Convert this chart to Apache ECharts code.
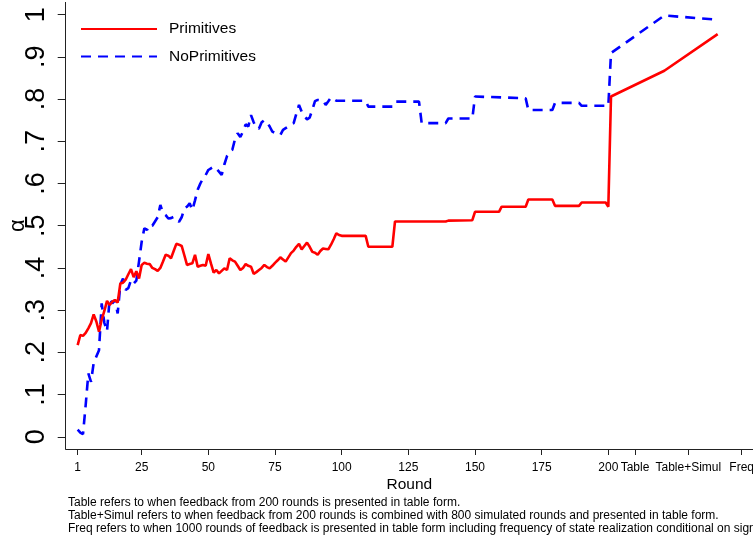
<!DOCTYPE html>
<html><head><meta charset="utf-8">
<script src="https://cdn.jsdelivr.net/npm/echarts@6/dist/echarts.min.js"></script>
<style>html,body{margin:0;padding:0;background:#fff}#c{width:753px;height:543px}</style>
</head><body><div id="c"></div><script>
// ---- data ----
const firstRounds = Array.from({length: 100}, (_, i) => i + 1);

const primRounds = firstRounds.concat([109,110,119,120,139,140,149,150,159,160,169,170,179,180,189,190,199,200,201,221,241]);
const primAlpha = [
  0.217,0.241,0.239,0.246,0.257,0.269,0.290,0.273,0.249,0.277,
  0.298,0.322,0.312,0.320,0.324,0.318,0.363,0.365,0.372,0.385,
  0.397,0.378,0.392,0.375,0.407,0.412,0.410,0.409,0.400,0.397,
  0.393,0.400,0.415,0.431,0.429,0.423,0.440,0.457,0.455,0.452,
  0.430,0.407,0.409,0.411,0.431,0.403,0.405,0.407,0.405,0.433,
  0.410,0.389,0.395,0.387,0.393,0.399,0.395,0.423,0.418,0.415,
  0.405,0.395,0.400,0.409,0.405,0.403,0.386,0.390,0.395,0.400,
  0.407,0.402,0.399,0.405,0.412,0.418,0.425,0.420,0.415,0.425,
  0.435,0.441,0.450,0.457,0.444,0.452,0.460,0.450,0.438,0.436,
  0.431,0.440,0.446,0.445,0.444,0.455,0.468,0.482,0.478,0.476,
  0.476,0.450,0.450,0.510,0.510,0.512,0.513,0.533,0.533,0.545,
  0.545,0.562,0.562,0.547,0.547,0.555,0.555,0.545,0.806,0.867,0.954
];

const noPrimRounds = firstRounds.concat([109,110,119,120,129,130,139,140,149,150,169,170,179,180,189,190,200,201,221,241]);
const noPrimAlpha = [
  0.017,0.010,0.006,0.075,0.150,0.130,0.175,0.190,0.205,0.316,
  0.270,0.250,0.328,0.316,0.324,0.292,0.360,0.375,0.348,0.352,
  0.371,0.363,0.370,0.415,0.462,0.494,0.490,0.502,0.500,0.510,
  0.520,0.549,0.530,0.525,0.517,0.518,0.521,0.515,0.509,0.520,
  0.541,0.545,0.553,0.537,0.560,0.585,0.600,0.612,0.620,0.632,
  0.636,0.640,0.635,0.628,0.620,0.645,0.665,0.675,0.680,0.705,
  0.719,0.710,0.723,0.740,0.735,0.762,0.745,0.731,0.730,0.745,
  0.750,0.745,0.735,0.723,0.720,0.718,0.715,0.727,0.731,0.735,
  0.740,0.743,0.765,0.786,0.770,0.760,0.752,0.756,0.775,0.795,
  0.798,0.797,0.797,0.786,0.795,0.804,0.800,0.796,0.796,0.796,
  0.796,0.782,0.782,0.794,0.794,0.743,0.743,0.754,0.754,0.806,
  0.802,0.774,0.774,0.791,0.791,0.784,0.784,0.909,0.998,0.988
];

const xTickValues = [1,25,50,75,100,125,150,175,200,210,230,250];
const xTickLabels = ['1','25','50','75','100','125','150','175','200','Table','Table+Simul','Freq'];
const yTickValues = [0,0.1,0.2,0.3,0.4,0.5,0.6,0.7,0.8,0.9,1];
const yTickLabels = ['0','.1','.2','.3','.4','.5','.6','.7','.8','.9','1'];

const footnotes = [
  'Table refers to when feedback from 200 rounds is presented in table form.',
  'Table+Simul refers to when feedback from 200 rounds is combined with 800 simulated rounds and presented in table form.',
  'Freq refers to when 1000 rounds of feedback is presented in table form including frequency of state realization conditional on signal.'
];

// ---- chart ----
const FONT = '"Liberation Sans", Arial, Helvetica, sans-serif';
const zip = (xs, ys) => xs.map((x, i) => [x, ys[i]]);
const labelOf = (vals, labels) => v => {
  const i = vals.findIndex(t => Math.abs(t - v) < 1e-6);
  return i >= 0 ? labels[i] : '';
};

const chart = echarts.init(document.getElementById('c'), null, {renderer: 'canvas'});
chart.setOption({
  animation: false,
  backgroundColor: '#fff',
  grid: {left: 65.7, top: 2.4, width: 687.3, height: 446.6, containLabel: false, outerBoundsMode: 'none'},
  xAxis: {
    type: 'value', min: -3.49, max: 254.25,
    name: 'Round', nameLocation: 'middle', nameGap: 27.5, nameMoveOverlap: false,
    nameTextStyle: {fontSize: 15.5, color: '#000', fontFamily: FONT},
    axisLine: {show: true, onZero: false, lineStyle: {color: '#222', width: 1}},
    axisTick: {show: true, customValues: xTickValues, length: 6, lineStyle: {color: '#222', width: 1}},
    axisLabel: {customValues: xTickValues, formatter: labelOf(xTickValues, xTickLabels),
      fontSize: 12, color: '#000', fontFamily: FONT, margin: 12.5},
    splitLine: {show: false}
  },
  yAxis: {
    type: 'value', min: -0.029, max: 1.029,
    name: 'α', nameLocation: 'middle', nameGap: 37, nameRotate: 90, nameMoveOverlap: false,
    nameTextStyle: {fontSize: 22, color: '#000', fontFamily: FONT},
    axisLine: {show: true, onZero: false, lineStyle: {color: '#222', width: 1}},
    axisTick: {show: true, customValues: yTickValues, length: 8, lineStyle: {color: '#222', width: 1}},
    axisLabel: {customValues: yTickValues, formatter: labelOf(yTickValues, yTickLabels), rotate: 90,
      fontSize: 27, color: '#000', fontFamily: FONT, margin: 16},
    splitLine: {show: false}
  },
  legend: {
    orient: 'vertical', left: 80, top: 21, itemWidth: 76, itemHeight: 14, itemGap: 11.5, padding: 0,
    itemStyle: {opacity: 0},
    textStyle: {fontSize: 15.5, color: '#000', fontFamily: FONT, padding: [0, 0, 0, 7]},
    data: ['Primitives', 'NoPrimitives']
  },
  series: [
    {name: 'Primitives', type: 'line', symbol: 'none', data: zip(primRounds, primAlpha),
      lineStyle: {color: '#ff0000', width: 2.6}, itemStyle: {color: '#ff0000'}, z: 3},
    {name: 'NoPrimitives', type: 'line', symbol: 'none', data: zip(noPrimRounds, noPrimAlpha),
      lineStyle: {color: '#0000ff', width: 2.6, type: [10, 7]}, itemStyle: {color: '#0000ff'}, z: 2}
  ],
  graphic: [{
    type: 'text', left: 68, top: 496.5,
    style: {text: footnotes.join('\n'), fontSize: 12, lineHeight: 13, fill: '#000', fontFamily: FONT}
  }]
});
</script></body></html>
